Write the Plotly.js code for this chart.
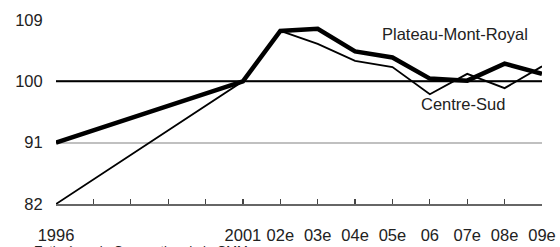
<!DOCTYPE html>
<html>
<head>
<meta charset="utf-8">
<script src="https://cdn.plot.ly/plotly-3.0.1.min.js"></script>
<style>html,body{margin:0;padding:0;background:#fff;}#chart{width:560px;height:247px;}</style>
</head>
<body>
<div id="chart"></div>
<script>
const categories = ["1996","1997","1998","1999","2000","2001","02e","03e","04e","05e","06","07e","08e","09e"];
const tickLabels = ["1996","","","","","2001","02e","03e","04e","05e","06","07e","08e","09e"];
const plateauX = [0, 5, 6, 7, 8, 9, 10, 11, 12, 13];
const plateauValues = [91, 100, 107.4, 107.7, 104.4, 103.5, 100.4, 100.1, 102.6, 101.1];
const centreSudX = [0, 5, 6, 7, 8, 9, 10, 11, 12, 13];
const centreSudValues = [82, 100, 107.4, 105.5, 103.0, 102.1, 98.1, 101.1, 99.0, 102.2];
const yTicks = [82, 91, 100, 109];
const baseline = 100;

const font = "Liberation Sans, Arial, sans-serif";
const traces = [
  {x: [0, categories.length - 1], y: [baseline, baseline], mode: "lines", line: {color: "#000", width: 2}, name: "base", hoverinfo: "skip"},
  {x: centreSudX, y: centreSudValues, mode: "lines", line: {color: "#000", width: 1.8}, name: "Centre-Sud", hoverinfo: "skip"},
  {x: plateauX, y: plateauValues, mode: "lines", line: {color: "#000", width: 4.5}, name: "Plateau-Mont-Royal", hoverinfo: "skip"}
];
const layout = {
  width: 560, height: 247,
  margin: {l: 56, r: 18, t: 20, b: 43},
  paper_bgcolor: "#fff", plot_bgcolor: "#fff",
  showlegend: false,
  font: {family: font, size: 16.5, color: "#222"},
  xaxis: {
    range: [0, categories.length - 1],
    tickvals: categories.map((c, i) => i),
    ticktext: tickLabels,
    showgrid: false, zeroline: false,
    showline: true, linecolor: "#666", linewidth: 1.5,
    ticks: "inside", ticklen: 5, tickcolor: "#444", tickwidth: 1.2,
    ticklabelstandoff: 16,
    tickfont: {family: font, size: 16.5, color: "#222"},
    fixedrange: true
  },
  yaxis: {
    range: [82, 109],
    tickvals: yTicks,
    showgrid: true, gridcolor: "#c0c0c0", gridwidth: 2,
    zeroline: false, showline: false,
    ticks: "outside", ticklen: 9, tickcolor: "rgba(0,0,0,0)",
    tickfont: {family: font, size: 16.5, color: "#222"},
    fixedrange: true
  },
  annotations: [
    {x: 10.67, y: 107.0, xref: "x", yref: "y", text: "Plateau-Mont-Royal", showarrow: false, font: {family: font, size: 16.5, color: "#222"}},
    {x: 10.89, y: 96.7, xref: "x", yref: "y", text: "Centre-Sud", showarrow: false, font: {family: font, size: 16.5, color: "#222"}},
    {x: -0.05, y: -0.2, xref: "paper", yref: "paper", xanchor: "left", yanchor: "top", text: "Estimé par la Corporation de la CMM", showarrow: false, font: {family: font, size: 13, color: "#222"}}
  ]
};
Plotly.newPlot("chart", traces, layout, {displayModeBar: false, staticPlot: true});
</script>
</body>
</html>
